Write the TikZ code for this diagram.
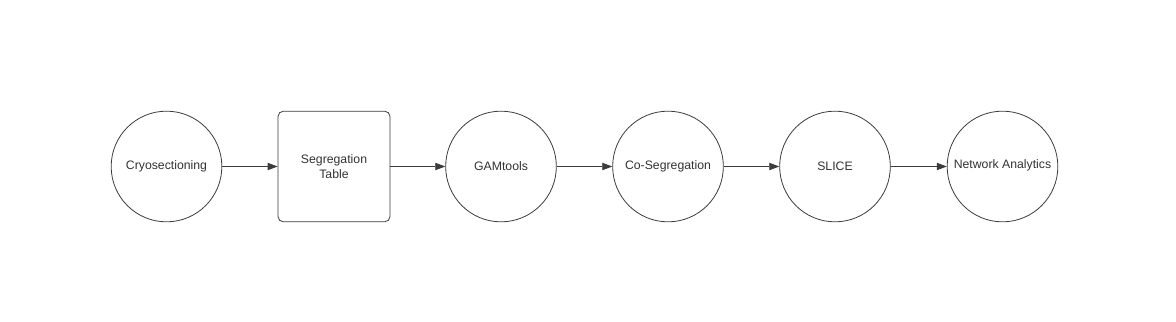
\documentclass[tikz,border=0pt]{standalone}
\usepackage{fontspec}
\setmainfont{Liberation Sans}
\usepackage{xcolor}
\usepackage{tikz}
\usetikzlibrary{arrows.meta, positioning}
\definecolor{flowline}{RGB}{60, 60, 60}
\definecolor{flowtext}{RGB}{50, 50, 50}

\begin{document}
\begin{tikzpicture}[
  x=0.75pt, y=-0.75pt,
  stage/.style={circle, draw=flowline, line width=0.6pt, minimum size=83pt,
                inner sep=0pt, align=center, font=\fontsize{9.2}{11.2}\selectfont, text=flowtext},
  segbox/.style={rectangle, rounded corners=4pt, draw=flowline, line width=0.6pt,
                minimum width=84pt, minimum height=83pt, inner sep=0pt, align=center,
                font=\fontsize{9.2}{11.2}\selectfont, text=flowtext},
  arr/.style={-{Triangle[length=7.5pt, width=5.5pt]}, line width=0.6pt, flowline}
]
\useasboundingbox (0,0) rectangle (1176,321);

\node[stage] (cryo) at (166.5,166.5) {Cryosectioning};
\node[segbox] (segtab) at (334,166.5) {Segregation\\Table};
\node[stage] (gam) at (501,166.5) {GAMtools};
\node[stage] (coseg) at (668,166.5) {Co-Segregation};
\node[stage] (slice) at (835,166.5) {SLICE};
\node[stage] (net) at (1002.5,166.5) {\raisebox{3pt}{Network Analytics}};

\draw[arr] (cryo) -- (segtab);
\draw[arr] (segtab) -- (gam);
\draw[arr] (gam) -- (coseg);
\draw[arr] (coseg) -- (slice);
\draw[arr] (slice) -- (net);
\end{tikzpicture}
\end{document}
